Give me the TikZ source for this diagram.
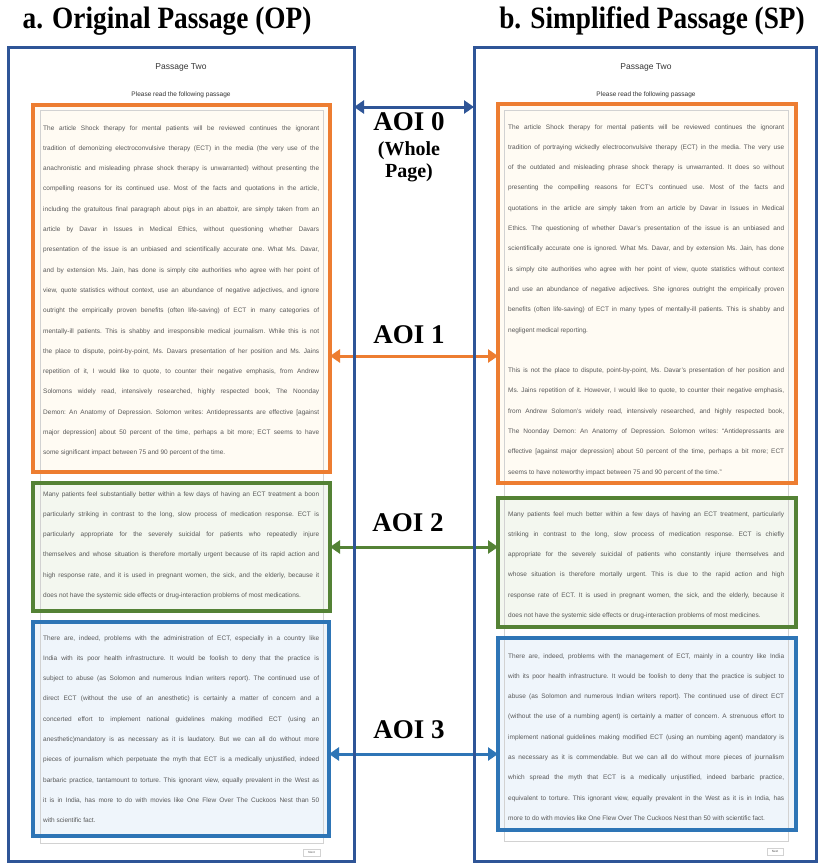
\documentclass[tikz,border=0pt]{standalone}
\usepackage{graphicx}
\usepackage{fontspec}
\setmainfont{Liberation Serif}
\newfontfamily\arialf{Liberation Sans}
\usetikzlibrary{arrows.meta,calc}
\definecolor{frameblue}{HTML}{2F5597}
\definecolor{aoiorange}{HTML}{ED7D31}
\definecolor{aoigreen}{HTML}{548235}
\definecolor{aoiblue}{HTML}{2E75B6}
\definecolor{ofill}{HTML}{FFFBF3}
\definecolor{gfill}{HTML}{F3F7EF}
\definecolor{bfill}{HTML}{EFF5FB}
\definecolor{pgray}{HTML}{D2D2D2}
\definecolor{txtgray}{HTML}{595959}
\newsavebox\linebox
\newlength\LW
\newcommand\jl[1]{\hbox{\sbox\linebox{#1}\ifdim\wd\linebox>\LW\resizebox{\LW}{\ht\linebox}{\usebox\linebox}\else\makebox[\LW][s]{#1}\fi}}
\newcommand\lastl[1]{\hbox to\LW{#1\hfil}}
\newcommand\passage[1]{\vtop{\frenchspacing\LW=276pt\hsize=276pt\baselineskip=20.3pt\lineskiplimit=-30pt\arialf\fontsize{6.5}{20.3}\selectfont #1}}
\tikzset{
  aoi/.style={draw=#1, line width=4pt, rectangle, inner sep=0pt, outer sep=0pt},
  pageframe/.style={draw=frameblue, line width=3pt, rectangle, inner sep=0pt, outer sep=0pt},
  webframe/.style={draw=pgray, line width=0.8pt, rectangle, inner sep=0pt, outer sep=0pt},
  txt/.style={anchor=base west, inner sep=0pt, text=txtgray},
  dbl/.style={draw=#1, line width=3pt, {Triangle[length=10pt,width=13pt]}-{Triangle[length=10pt,width=13pt]}},
  aoilab/.style={font=\bfseries\fontsize{27}{27}\selectfont, inner sep=0pt},
  sublab/.style={font=\bfseries\fontsize{20}{22}\selectfont, inner sep=0pt, align=center},
  ttl/.style={font=\bfseries\fontsize{31}{31}\selectfont, anchor=base, inner sep=0pt},
  ptitle/.style={font=\arialf\fontsize{8.5}{9}\selectfont, text=black!80, inner sep=0pt},
  pinstr/.style={font=\arialf\fontsize{6.5}{7}\selectfont, text=black!80, inner sep=0pt},
  nextbtn/.style={draw=pgray, line width=0.5pt, fill=white, inner sep=0pt, font=\arialf\fontsize{3}{3}\selectfont, text=black!70},
}
\begin{document}
\begin{tikzpicture}[x=1pt,y=-1pt]
\useasboundingbox (0,0) rectangle (818,863);
\fill[white] (0,0) rectangle (818,863);

% titles
\node[ttl] (t1) at (167,28) {\scalebox{0.88}[1]{a. Original Passage (OP)}};
\node[ttl] (t2) at (652,28) {\scalebox{0.88}[1]{b. Simplified Passage (SP)}};

% AOI boxes
\node[aoi=aoiorange, fill=ofill, minimum width=297pt, minimum height=367pt] (lo) at (181.5,288.5) {};
\node[aoi=aoigreen, fill=gfill, minimum width=297pt, minimum height=128pt] (lg) at (181.5,547) {};
\node[aoi=aoiblue, fill=bfill, minimum width=296pt, minimum height=214pt] (lb) at (181,729) {};
\node[aoi=aoiorange, fill=ofill, minimum width=298pt, minimum height=379pt] (ro) at (647,293.5) {};
\node[aoi=aoigreen, fill=gfill, minimum width=298pt, minimum height=129pt] (rg) at (647,562.5) {};
\node[aoi=aoiblue, fill=bfill, minimum width=298pt, minimum height=192pt] (rb) at (647,734) {};

% web page frames
\node[webframe, minimum width=283pt, minimum height=733pt] (lw) at (181.5,476.5) {};
\node[webframe, minimum width=284pt, minimum height=731pt] (rw) at (646,475.5) {};

% redraw AOI borders on top
\draw[aoiorange, line width=4pt] (lo.north west) rectangle (lo.south east);
\draw[aoigreen, line width=4pt] (lg.north west) rectangle (lg.south east);
\draw[aoiblue, line width=4pt] (lb.north west) rectangle (lb.south east);
\draw[aoiorange, line width=4pt] (ro.north west) rectangle (ro.south east);
\draw[aoigreen, line width=4pt] (rg.north west) rectangle (rg.south east);
\draw[aoiblue, line width=4pt] (rb.north west) rectangle (rb.south east);

% page headings
\node[ptitle] (lp) at (181,67) {Passage Two};
\node[pinstr] (lr) at (181,95) {Please read the following passage};
\node[ptitle] (rp) at (646,67) {Passage Two};
\node[pinstr] (rr) at (646,95) {Please read the following passage};

% next buttons
\node[nextbtn, minimum width=17pt, minimum height=7pt] (ln) at (311.5,852.5) {Next};
\node[nextbtn, minimum width=16pt, minimum height=7pt] (rn) at (775,851.5) {Next};

% texts: original passage
\node[txt] (lotx) at (43,130) {\passage{%
\jl{The article Shock therapy for mental patients will be reviewed continues the ignorant}
\jl{tradition of demonizing electroconvulsive therapy (ECT) in the media (the very use of the}
\jl{anachronistic and misleading phrase shock therapy is unwarranted) without presenting the}
\jl{compelling reasons for its continued use. Most of the facts and quotations in the article,}
\jl{including the gratuitous final paragraph about pigs in an abattoir, are simply taken from an}
\jl{article by Davar in Issues in Medical Ethics, without questioning whether Davars}
\jl{presentation of the issue is an unbiased and scientifically accurate one. What Ms. Davar,}
\jl{and by extension Ms. Jain, has done is simply cite authorities who agree with her point of}
\jl{view, quote statistics without context, use an abundance of negative adjectives, and ignore}
\jl{outright the empirically proven benefits (often life-saving) of ECT in many categories of}
\jl{mentally-ill patients. This is shabby and irresponsible medical journalism. While this is not}
\jl{the place to dispute, point-by-point, Ms. Davars presentation of her position and Ms. Jains}
\jl{repetition of it, I would like to quote, to counter their negative emphasis, from Andrew}
\jl{Solomons widely read, intensively researched, highly respected book, The Noonday}
\jl{Demon: An Anatomy of Depression. Solomon writes: Antidepressants are effective [against}
\jl{major depression] about 50 percent of the time, perhaps a bit more; ECT seems to have}
\lastl{some significant impact between 75 and 90 percent of the time.}}};

\node[txt] (lgtx) at (43,496) {\passage{%
\jl{Many patients feel substantially better within a few days of having an ECT treatment a boon}
\jl{particularly striking in contrast to the long, slow process of medication response. ECT is}
\jl{particularly appropriate for the severely suicidal for patients who repeatedly injure}
\jl{themselves and whose situation is therefore mortally urgent because of its rapid action and}
\jl{high response rate, and it is used in pregnant women, the sick, and the elderly, because it}
\lastl{does not have the systemic side effects or drug-interaction problems of most medications.}}};

\node[txt] (lbtx) at (43,640) {\passage{%
\jl{There are, indeed, problems with the administration of ECT, especially in a country like}
\jl{India with its poor health infrastructure. It would be foolish to deny that the practice is}
\jl{subject to abuse (as Solomon and numerous Indian writers report). The continued use of}
\jl{direct ECT (without the use of an anesthetic) is certainly a matter of concern and a}
\jl{concerted effort to implement national guidelines making modified ECT (using an}
\jl{anesthetic)mandatory is as necessary as it is laudatory. But we can all do without more}
\jl{pieces of journalism which perpetuate the myth that ECT is a medically unjustified, indeed}
\jl{barbaric practice, tantamount to torture. This ignorant view, equally prevalent in the West as}
\jl{it is in India, has more to do with movies like One Flew Over The Cuckoos Nest than 50}
\lastl{with scientific fact.}}};

% texts: simplified passage
\node[txt] (rotx) at (508,129) {\passage{%
\jl{The article Shock therapy for mental patients will be reviewed continues the ignorant}
\jl{tradition of portraying wickedly electroconvulsive therapy (ECT) in the media. The very use}
\jl{of the outdated and misleading phrase shock therapy is unwarranted. It does so without}
\jl{presenting the compelling reasons for ECT’s continued use. Most of the facts and}
\jl{quotations in the article are simply taken from an article by Davar in Issues in Medical}
\jl{Ethics. The questioning of whether Davar’s presentation of the issue is an unbiased and}
\jl{scientifically accurate one is ignored. What Ms. Davar, and by extension Ms. Jain, has done}
\jl{is simply cite authorities who agree with her point of view, quote statistics without context}
\jl{and use an abundance of negative adjectives. She ignores outright the empirically proven}
\jl{benefits (often life-saving) of ECT in many types of mentally-ill patients. This is shabby and}
\lastl{negligent medical reporting.}
\hbox{}
\jl{This is not the place to dispute, point-by-point, Ms. Davar’s presentation of her position and}
\jl{Ms. Jains repetition of it. However, I would like to quote, to counter their negative emphasis,}
\jl{from Andrew Solomon’s widely read, intensively researched, and highly respected book,}
\jl{The Noonday Demon: An Anatomy of Depression. Solomon writes: “Antidepressants are}
\jl{effective [against major depression] about 50 percent of the time, perhaps a bit more; ECT}
\lastl{seems to have noteworthy impact between 75 and 90 percent of the time.”}}};

\node[txt] (rgtx) at (508,516) {\passage{%
\jl{Many patients feel much better within a few days of having an ECT treatment, particularly}
\jl{striking in contrast to the long, slow process of medication response. ECT is chiefly}
\jl{appropriate for the severely suicidal of patients who constantly injure themselves and}
\jl{whose situation is therefore mortally urgent. This is due to the rapid action and high}
\jl{response rate of ECT. It is used in pregnant women, the sick, and the elderly, because it}
\lastl{does not have the systemic side effects or drug-interaction problems of most medicines.}}};

\node[txt] (rbtx) at (508,658) {\passage{%
\jl{There are, indeed, problems with the management of ECT, mainly in a country like India}
\jl{with its poor health infrastructure. It would be foolish to deny that the practice is subject to}
\jl{abuse (as Solomon and numerous Indian writers report). The continued use of direct ECT}
\jl{(without the use of a numbing agent) is certainly a matter of concern. A strenuous effort to}
\jl{implement national guidelines making modified ECT (using an numbing agent) mandatory is}
\jl{as necessary as it is commendable. But we can all do without more pieces of journalism}
\jl{which spread the myth that ECT is a medically unjustified, indeed barbaric practice,}
\jl{equivalent to torture. This ignorant view, equally prevalent in the West as it is in India, has}
\lastl{more to do with movies like One Flew Over The Cuckoos Nest than 50 with scientific fact.}}};

% AOI labels
\node[aoilab] (l0) at (409,122) {AOI 0};
\node[sublab] (l0b) at (409,162) {(Whole\\Page)};
\node[aoilab] (l1) at (409,335) {AOI 1};
\node[aoilab] (l2) at (408,523) {AOI 2};
\node[aoilab] (l3) at (409,730) {AOI 3};

% arrow levels
\coordinate (y0) at (414,107);
\coordinate (y1) at (414,356);
\coordinate (y2) at (414,547);
\coordinate (y3) at (414,754);

% AOI 1-3 arrows
\draw[dbl=aoiorange] (lo.east |- y1) -- (ro.west |- y1);
\draw[dbl=aoigreen] (lg.east |- y2) -- (rg.west |- y2);
\draw[dbl=aoiblue] (lb.east |- y3) -- (rb.west |- y3);

% outer page frames
\node[pageframe, minimum width=346pt, minimum height=814pt] (lf) at (181,454) {};
\node[pageframe, minimum width=342pt, minimum height=814pt] (rf) at (645,454) {};

% AOI 0 arrow
\draw[dbl=frameblue] (lf.east |- y0) -- (rf.west |- y0);
\end{tikzpicture}
\end{document}
